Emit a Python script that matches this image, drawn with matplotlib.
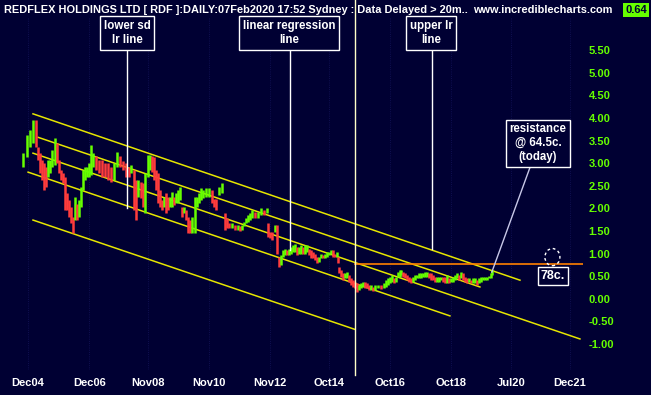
import matplotlib
matplotlib.use("Agg")
import matplotlib.pyplot as plt
from matplotlib.patches import Ellipse
import numpy as np

BG = "#000033"
GREEN = "#66ff00"
RED = "#ff3c3c"
YELLOW = "#e6e600"
FONT = ["Liberation Sans", "DejaVu Sans"]

# price bars (decimal year, low, high)
dates = [
    2004.76, 2004.89, 2004.99, 2005.08, 2005.18, 2005.25, 2005.31, 2005.38, 2005.44, 2005.51,
    2005.57, 2005.64, 2005.70, 2005.80, 2005.87, 2005.93, 2006.00, 2006.06, 2006.13, 2006.20,
    2006.26, 2006.33, 2006.39, 2006.46, 2006.52, 2006.59, 2006.65, 2006.72, 2006.78, 2006.85,
    2006.91, 2006.98, 2007.04, 2007.14, 2007.24, 2007.34, 2007.44, 2007.53, 2007.63, 2007.73,
    2007.83, 2007.93, 2008.03, 2008.12, 2008.22, 2008.29, 2008.38, 2008.45, 2008.52, 2008.61,
    2008.68, 2008.74, 2008.84, 2008.91, 2008.97, 2009.04, 2009.10, 2009.17, 2009.23, 2009.30,
    2009.37, 2009.43, 2009.50, 2009.56, 2009.63, 2009.69, 2009.76, 2009.82, 2009.89, 2009.95,
    2010.02, 2010.08, 2010.15, 2010.21, 2010.28, 2010.38, 2010.44, 2010.51, 2010.57, 2010.64,
    2010.74, 2010.84, 2010.93, 2011.00, 2011.06, 2011.16, 2011.26, 2011.36, 2011.42, 2011.49,
    2011.59, 2011.69, 2011.78, 2011.85, 2011.91, 2011.98, 2012.04, 2012.11, 2012.18, 2012.24,
    2012.34, 2012.44, 2012.53, 2012.63, 2012.73, 2012.76, 2012.83, 2012.89, 2012.99, 2013.06,
    2013.12, 2013.19, 2013.25, 2013.32, 2013.38, 2013.45, 2013.52, 2013.58, 2013.65, 2013.71,
    2013.78, 2013.84, 2013.91, 2013.97, 2014.04, 2014.10, 2014.17, 2014.23, 2014.30, 2014.37,
    2014.43, 2014.50, 2014.56, 2014.63, 2014.69, 2014.76, 2014.82, 2014.89, 2014.95, 2015.02,
    2015.05, 2015.08, 2015.15, 2015.21, 2015.28, 2015.35, 2015.41, 2015.48, 2015.54, 2015.61,
    2015.67, 2015.74, 2015.80, 2015.87, 2015.93, 2016.00, 2016.06, 2016.13, 2016.20, 2016.26,
    2016.36, 2016.46, 2016.55, 2016.62, 2016.69, 2016.75, 2016.82, 2016.88, 2016.95, 2017.01,
    2017.08, 2017.11, 2017.18, 2017.24, 2017.31, 2017.37, 2017.44, 2017.50, 2017.57, 2017.63,
    2017.70, 2017.76, 2017.83, 2017.89, 2017.96, 2018.03, 2018.09, 2018.16, 2018.22, 2018.29,
    2018.35, 2018.42, 2018.48, 2018.55, 2018.61, 2018.68, 2018.74, 2018.81, 2018.87, 2018.94,
    2019.01, 2019.07, 2019.14, 2019.20, 2019.27, 2019.33, 2019.40, 2019.46, 2019.53, 2019.59,
    2019.66, 2019.72, 2019.79, 2019.86, 2019.92, 2019.99, 2020.05, 2020.10,
]
lows = [
    2.91, 3.13, 3.36, 3.44, 3.36, 3.07, 2.78, 2.62, 2.40, 2.47,
    2.69, 2.78, 2.91, 2.95, 3.00, 2.78, 2.62, 2.55, 1.96, 1.96,
    1.81, 1.67, 1.45, 1.74, 1.74, 1.81, 2.03, 2.40, 2.62, 2.69,
    2.70, 2.73, 2.91, 2.84, 2.78, 2.69, 2.69, 2.62, 2.58, 2.62,
    2.91, 2.91, 2.84, 2.69, 2.69, 2.78, 1.96, 1.74, 2.25, 2.22,
    2.03, 1.89, 2.69, 2.84, 2.80, 2.62, 2.40, 2.11, 2.03, 1.96,
    2.03, 1.89, 1.96, 2.03, 2.03, 2.07, 2.11, 2.11, 2.18, 1.81,
    1.89, 1.74, 1.45, 1.45, 1.45, 1.45, 2.03, 2.11, 2.18, 2.22,
    2.25, 2.25, 2.11, 2.03, 1.96, 2.29, 2.33, 1.52, 1.56, 1.56,
    1.56, 1.52, 1.52, 1.49, 1.52, 1.60, 1.67, 1.70, 1.74, 1.78,
    1.78, 1.78, 1.85, 1.85, 1.89, 1.36, 1.34, 1.30, 1.47, 1.00,
    0.70, 0.75, 0.92, 0.96, 0.96, 0.96, 1.00, 1.03, 1.03, 0.96,
    1.00, 1.00, 1.00, 1.00, 1.03, 0.96, 0.90, 0.90, 0.85, 0.78,
    0.81, 0.90, 0.90, 0.90, 0.92, 0.96, 1.00, 0.92, 0.92, 0.92,
    0.78, 0.56, 0.48, 0.41, 0.45, 0.45, 0.37, 0.30, 0.26, 0.23,
    0.15, 0.19, 0.23, 0.26, 0.23, 0.23, 0.19, 0.19, 0.17, 0.19,
    0.23, 0.21, 0.23, 0.26, 0.30, 0.34, 0.37, 0.34, 0.37, 0.48,
    0.48, 0.52, 0.48, 0.45, 0.41, 0.37, 0.34, 0.37, 0.41, 0.45,
    0.45, 0.45, 0.48, 0.48, 0.48, 0.45, 0.41, 0.41, 0.37, 0.37,
    0.37, 0.41, 0.37, 0.34, 0.34, 0.34, 0.37, 0.37, 0.41, 0.45,
    0.41, 0.45, 0.41, 0.37, 0.34, 0.37, 0.34, 0.34, 0.34, 0.30,
    0.34, 0.37, 0.41, 0.41, 0.41, 0.45, 0.45, 0.52,
]
highs = [
    3.22, 3.62, 3.73, 3.95, 3.95, 3.36, 3.22, 3.07, 3.00, 2.91,
    3.07, 3.07, 3.29, 3.55, 3.44, 3.07, 2.84, 2.78, 2.69, 2.33,
    2.18, 2.03, 1.81, 2.25, 2.10, 2.18, 2.47, 2.84, 2.91, 2.91,
    3.00, 3.40, 3.22, 3.15, 3.07, 3.07, 3.00, 3.00, 2.91, 3.00,
    3.24, 3.15, 3.05, 3.00, 2.91, 2.95, 2.84, 2.62, 2.62, 2.58,
    2.55, 2.78, 3.18, 3.18, 3.15, 3.13, 2.84, 2.78, 2.40, 2.18,
    2.25, 2.33, 2.25, 2.25, 2.36, 2.25, 2.33, 2.40, 2.47, 2.03,
    2.03, 1.96, 1.81, 1.74, 1.81, 2.25, 2.25, 2.33, 2.44, 2.40,
    2.44, 2.44, 2.40, 2.20, 2.20, 2.47, 2.55, 1.89, 1.78, 1.67,
    1.67, 1.63, 1.63, 1.60, 1.63, 1.70, 1.78, 1.85, 1.89, 1.96,
    1.92, 1.92, 2.00, 1.96, 2.00, 1.67, 1.47, 1.47, 1.63, 1.63,
    0.92, 0.96, 1.07, 1.11, 1.07, 1.11, 1.14, 1.18, 1.22, 1.14,
    1.14, 1.18, 1.14, 1.18, 1.18, 1.11, 1.07, 1.03, 1.00, 0.92,
    0.92, 1.00, 0.96, 1.00, 1.03, 1.03, 1.07, 1.07, 1.00, 1.03,
    0.92, 0.70, 0.63, 0.56, 0.56, 0.59, 0.52, 0.45, 0.41, 0.37,
    0.34, 0.30, 0.34, 0.37, 0.37, 0.34, 0.30, 0.30, 0.26, 0.30,
    0.30, 0.30, 0.34, 0.41, 0.45, 0.48, 0.52, 0.45, 0.48, 0.59,
    0.63, 0.63, 0.59, 0.56, 0.52, 0.48, 0.45, 0.48, 0.52, 0.52,
    0.56, 0.56, 0.56, 0.59, 0.59, 0.56, 0.56, 0.52, 0.48, 0.48,
    0.48, 0.48, 0.48, 0.48, 0.52, 0.45, 0.45, 0.48, 0.52, 0.56,
    0.52, 0.59, 0.56, 0.48, 0.45, 0.45, 0.41, 0.45, 0.45, 0.41,
    0.45, 0.48, 0.48, 0.48, 0.48, 0.50, 0.56, 0.64,
]

# regression channel lines (start year, start value, end year, end value)
lr_x0 = [2005.08, 2005.25, 2005.08, 2004.92, 2005.08]
lr_y0 = [4.09, 3.57, 3.22, 2.80, 1.74]
lr_x1 = [2021.00, 2019.69, 2022.96, 2018.71, 2015.61]
lr_y1 = [0.41, 0.26, -0.89, -0.38, -0.68]

resistance = 0.77
cursor_date = 2015.61
last_close = 0.64

x_ticks = [2004.92, 2006.92, 2008.83, 2010.83, 2012.83, 2014.75, 2016.75, 2018.75, 2020.70, 2022.63]
x_labels = ["Dec04", "Dec06", "Nov08", "Nov10", "Nov12", "Oct14", "Oct16", "Oct18", "Jul20", "Dec21"]
y_ticks = np.arange(-1.0, 5.51, 0.5)

fig = plt.figure(figsize=(6.51, 3.95), dpi=100, facecolor=BG)
ax = fig.add_axes([3 / 651, 25 / 395, 580 / 651, 352 / 395])
ax.set_facecolor(BG)
for s in ax.spines.values():
    s.set_visible(False)

ax.set_xlim(2004.10, 2023.06)
ax.set_ylim(-1.577, 6.21)

# faint dotted grid
for t in x_ticks:
    ax.axvline(t, color="#14145a", lw=0.6, ls=":", zorder=0)

# bars: green if mid above previous mid, else red
mids = [(l + h) / 2 for l, h in zip(lows, highs)]
colors = [GREEN] + [GREEN if mids[i] >= mids[i - 1] else RED for i in range(1, len(mids))]
ax.vlines(dates, lows, highs, colors=colors, lw=1.8, zorder=3)

for x0, y0, x1, y1 in zip(lr_x0, lr_y0, lr_x1, lr_y1):
    ax.plot([x0, x1], [y0, y1], color=YELLOW, lw=1.1, zorder=2)

ax.plot([cursor_date, ax.get_xlim()[1]], [resistance, resistance], color="#ff8000", lw=1.2, zorder=4)
ax.axvline(cursor_date, ymin=-0.015, ymax=1.055, color="#ffffc8", lw=1.0, clip_on=False, zorder=5)

ax.set_xticks(x_ticks)
ax.set_xticklabels(x_labels)
ax.set_yticks(y_ticks)
ax.set_yticklabels([f"{v:.2f}" for v in y_ticks])
ax.yaxis.tick_right()
ax.tick_params(axis="x", length=0, pad=6, colors="white", labelsize=8)
ax.tick_params(axis="y", length=0, pad=4, colors=GREEN, labelsize=8)
for lab in ax.get_xticklabels() + ax.get_yticklabels():
    lab.set_fontweight("bold")
    lab.set_family(FONT)

box = dict(boxstyle="square,pad=0.3", fc=BG, ec="white", lw=1)
txt = dict(color="white", fontweight="bold", fontsize=8.3, family=FONT, ha="center", va="center",
           linespacing=1.25, zorder=7)

# annotation boxes with pointers
ax.text(2008.16, 5.88, "lower sd\nlr line", bbox=box, **txt)
ax.plot([2008.16, 2008.16], [5.55, 2.00], color="white", lw=1, zorder=6)
ax.text(2013.45, 5.88, "linear regression\nline", bbox=box, **txt)
ax.plot([2013.48, 2013.48], [5.55, 1.08], color="white", lw=1, zorder=6)
ax.text(2018.09, 5.88, "upper lr\nline", bbox=box, **txt)
ax.plot([2018.12, 2018.12], [5.55, 1.10], color="white", lw=1, zorder=6)

ax.text(2021.59, 3.44, "resistance\n@ 64.5c.\n(today)", bbox=box, **txt)
ax.plot([2021.33, 2020.08], [2.91, 0.59], color="#c8c8e8", lw=1, zorder=6)

ax.add_patch(Ellipse((2022.06, 0.92), 0.49, 0.38, fill=False, ec="white", lw=1, ls=(0, (2, 2)), zorder=5))
ax.text(2022.08, 0.51, "78c.", bbox=dict(boxstyle="square,pad=0.25", fc=BG, ec="white", lw=1),
        **{**txt, "fontsize": 9})

# header
fig.text(4 / 651, 1 - 10 / 395,
         "REDFLEX HOLDINGS LTD [ RDF ]:DAILY:07Feb2020 17:52 Sydney : Data Delayed > 20m..",
         color="white", fontweight="bold", fontsize=7.9, family=FONT, va="center", ha="left")
fig.text(473 / 651, 1 - 10 / 395, "www.incrediblecharts.com",
         color="white", fontweight="bold", fontsize=7.9, family=FONT, va="center", ha="left")
fig.text(647 / 651, 1 - 10 / 395, f"{last_close:.2f}", color=BG, fontweight="bold", fontsize=8,
         family=FONT, va="center", ha="right",
         bbox=dict(boxstyle="square,pad=0.2", fc=GREEN, ec="none"))

fig.savefig("out.png", dpi=100, facecolor=BG)
